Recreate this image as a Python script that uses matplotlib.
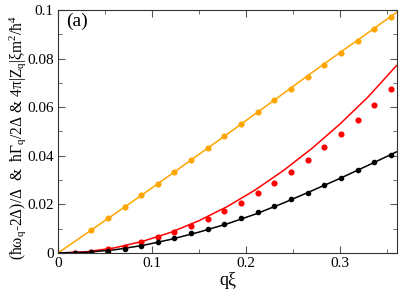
import numpy as np
import matplotlib
matplotlib.use("Agg")
import matplotlib.pyplot as plt
from matplotlib.ticker import MultipleLocator, FuncFormatter

plt.rcParams["font.family"] = "serif"
plt.rcParams["font.serif"] = ["Liberation Serif", "DejaVu Serif"]
plt.rcParams["mathtext.fontset"] = "stix"
plt.rcParams["mathtext.default"] = "regular"

# q*xi for the data points
q_pts = [0.0177, 0.0354, 0.0531, 0.0708, 0.0885, 0.1062, 0.1239, 0.1416, 0.1593, 0.1770,
         0.1947, 0.2124, 0.2301, 0.2478, 0.2655, 0.2832, 0.3009, 0.3186, 0.3363, 0.3540]

# orange points start at the second q value
orange_pts = [0.0094, 0.0142, 0.0189, 0.0237, 0.0285, 0.0334, 0.0383, 0.0431, 0.0481, 0.0531,
              0.0580, 0.0628, 0.0676, 0.0724, 0.0773, 0.0823, 0.0871, 0.0921, 0.0970]
red_pts = [0.0002, 0.0006, 0.0016, 0.0026, 0.0044, 0.0065, 0.0086, 0.0111, 0.0140, 0.0172,
           0.0207, 0.0246, 0.0289, 0.0333, 0.0383, 0.0437, 0.0490, 0.0547, 0.0608, 0.0674]
black_pts = [0.0000, 0.0003, 0.0010, 0.0016, 0.0030, 0.0045, 0.0062, 0.0081, 0.0098, 0.0119,
             0.0143, 0.0167, 0.0193, 0.0221, 0.0248, 0.0279, 0.0309, 0.0340, 0.0373, 0.0405]

# curves
q_line = [0, 0.03, 0.06, 0.09, 0.12, 0.15, 0.18, 0.21, 0.24, 0.27, 0.30, 0.33, 0.36]
orange_line = [0, 0.0080, 0.0160, 0.0241, 0.0323, 0.0406, 0.0489, 0.0573, 0.0657, 0.0742, 0.0825, 0.0907, 0.0990]
red_line = [0, 0.0005, 0.0021, 0.0048, 0.0085, 0.0133, 0.0191, 0.0260, 0.0340, 0.0430, 0.0531, 0.0643, 0.0771]
black_line = [0, 0.0003, 0.0013, 0.0031, 0.0056, 0.0086, 0.0120, 0.0160, 0.0206, 0.0256, 0.0307, 0.0361, 0.0416]

fig = plt.figure(figsize=(3.99, 2.89), dpi=100)
ax = fig.add_axes([0.1454, 0.1246, 0.8496, 0.8408])

ax.plot(q_line, orange_line, color="orange", lw=1.1)
ax.plot(q_line, red_line, color="red", lw=1.1)
ax.plot(q_line, black_line, color="black", lw=1.1)

ax.plot(q_pts[1:], orange_pts, "o", color="orange", ms=3.4, mec="orange")
ax.plot(q_pts, red_pts, "o", color="red", ms=3.4, mec="red")
ax.plot(q_pts, black_pts, "o", color="black", ms=3.0)

ax.set_xlim(0, 0.3606)
ax.set_ylim(0, 0.1)

ax.xaxis.set_major_locator(MultipleLocator(0.1))
ax.xaxis.set_minor_locator(MultipleLocator(0.05))
ax.yaxis.set_major_locator(MultipleLocator(0.02))
ax.yaxis.set_minor_locator(MultipleLocator(0.01))
fmt = FuncFormatter(lambda v, p: "0" if abs(v) < 1e-9 else ("%g" % round(v, 3)))
ax.xaxis.set_major_formatter(fmt)
ax.yaxis.set_major_formatter(fmt)

ax.tick_params(which="both", direction="in", top=True, right=True, labelsize=11,
               color="#555555", pad=3)
ax.tick_params(which="major", length=5)
ax.tick_params(which="minor", length=3)
for s in ax.spines.values():
    s.set_color("#333333")

ax.set_xlabel("q\u03be", fontsize=13, labelpad=1)
ax.set_ylabel(r"$(\hbar\omega_q$-2$\Delta)/\Delta$  &  $\hbar\Gamma_q/2\Delta$ & 4$\pi|Z_q|\xi m^2/\hbar^4$",
              fontsize=11.2)
ax.yaxis.set_label_coords(-0.09, 0.475)
ax.text(0.024, 0.955, "(a)", transform=ax.transAxes, fontsize=14, va="center", ha="left")

fig.savefig("out.png", dpi=100)
